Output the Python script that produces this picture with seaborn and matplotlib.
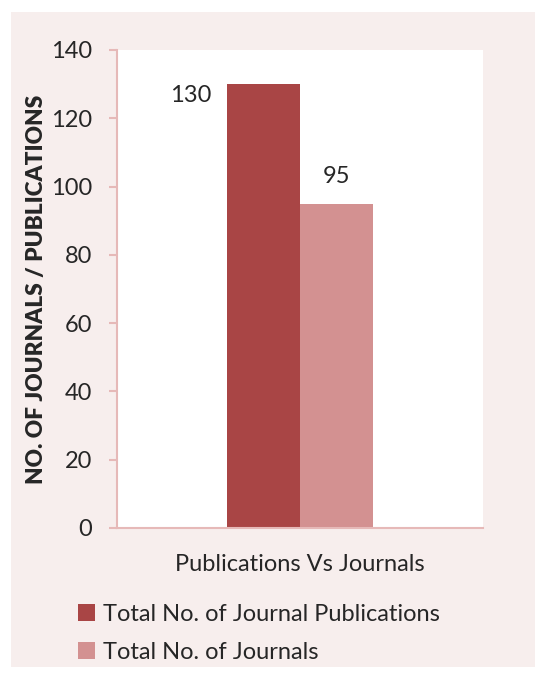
import pandas as pd
import matplotlib
matplotlib.use('Agg')
import matplotlib.pyplot as plt
from matplotlib.patches import Rectangle
import seaborn as sns

categories = ["Publications Vs Journals"]
series = ["Total No. of Journal Publications", "Total No. of Journals"]
values = [130, 95]
y_ticks = [0, 20, 40, 60, 80, 100, 120, 140]

dark_red = "#A94545"
light_red = "#D39191"
spine_col = "#E6B9B8"
panel_bg = "#F7EEED"

sns.set_theme(style="white")
plt.rcParams['font.family'] = ['Lato', 'DejaVu Sans']

df = pd.DataFrame({
    'category': [categories[0]] * len(series),
    'series': series,
    'value': values,
})

fs = 17

fig = plt.figure(figsize=(5.35, 6.76), dpi=100)
fig.patch.set_facecolor('white')
fig.patches.append(Rectangle((11 / 535, 1 - 667 / 676), 1 - 11 / 535, (667 - 12) / 676,
                             transform=fig.transFigure, facecolor=panel_bg,
                             edgecolor='none', zorder=-10))

ax = fig.add_axes([117 / 535, 1 - 528 / 676, (483 - 117) / 535, (528 - 50) / 676])
ax.set_zorder(1)
ax.set_facecolor('white')

sns.barplot(data=df, x='category', y='value', hue='series',
            palette=[dark_red, light_red], width=0.4, saturation=1,
            linewidth=0, edgecolor='none', ax=ax)

handles, labels = ax.get_legend_handles_labels()
ax.get_legend().remove()

ax.set_xlim(-0.5, 0.5)
ax.set_ylim(0, 140)
ax.set_yticks(y_ticks)
ax.tick_params(axis='y', length=6, width=1.5, color=spine_col, labelsize=fs, pad=12,
               left=True)
ax.tick_params(axis='x', length=0, labelsize=fs, pad=19)
for s in ['top', 'right']:
    ax.spines[s].set_visible(False)
for s in ['left', 'bottom']:
    ax.spines[s].set_color(spine_col)
    ax.spines[s].set_linewidth(1.5)

ax.set_xlabel('')
ax.set_ylabel('NO. OF JOURNALS / PUBLICATIONS', fontsize=16.3, fontweight='heavy', labelpad=3)

# value labels
p1 = ax.containers[0].patches[0]
ax.annotate(f"{values[0]}", xy=(p1.get_x(), p1.get_height()), xytext=(-36, -11),
            textcoords='offset pixels', ha='center', va='center', fontsize=fs)
p2 = ax.containers[1].patches[0]
ax.annotate(f"{values[1]}", xy=(p2.get_x() + p2.get_width() / 2, p2.get_height()),
            xytext=(0, 27), textcoords='offset pixels', ha='center', va='center', fontsize=fs)

fig.legend(handles, labels, loc='upper left', bbox_to_anchor=(78 / 535, 1 - 604 / 676),
           frameon=False, fontsize=fs, handlelength=0.7, handleheight=0.7,
           handletextpad=0.35, labelspacing=0.7, borderpad=0, borderaxespad=0)

fig.savefig('out.png', dpi=100, facecolor=fig.get_facecolor())
